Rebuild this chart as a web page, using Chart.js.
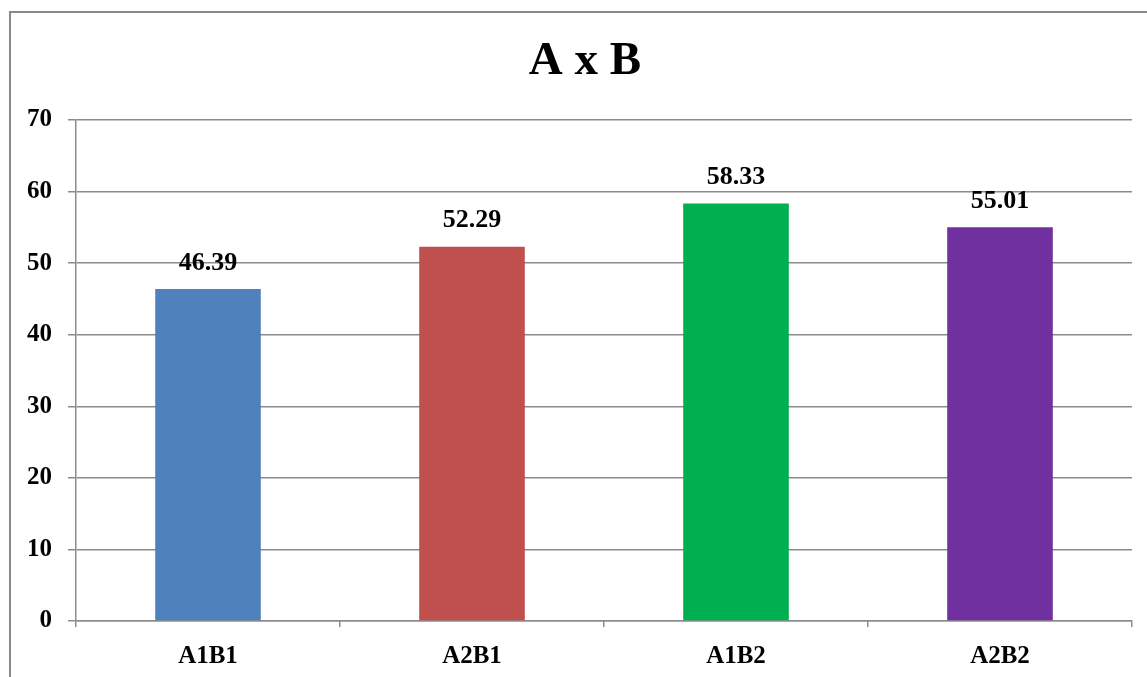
<!DOCTYPE html>
<html>
<head>
<meta charset="utf-8">
<title>A x B</title>
<script src="https://cdn.jsdelivr.net/npm/chart.js@4.4.1/dist/chart.umd.min.js"></script>
<style>
  html, body { margin: 0; padding: 0; background: #ffffff; overflow: hidden; }
  #frame {
    position: absolute; left: 9px; top: 11px; width: 1200px; height: 720px;
    border: 2px solid #8a8a8a; box-sizing: border-box;
  }
  #wrap { position: absolute; left: 0; top: 0; width: 1147px; height: 677px; }
</style>
</head>
<body>
<div id="frame"></div>
<div id="wrap"><canvas id="chart" width="1147" height="677"></canvas></div>
<script>
// Treatment combinations and their means
const categories = ['A1B1', 'A2B1', 'A1B2', 'A2B2'];
const values = [46.39, 52.29, 58.33, 55.01];
const barColors = ['#4F81BD', '#C0504D', '#00B050', '#7030A0'];
const yTicks = [0, 10, 20, 30, 40, 50, 60, 70];
const chartTitle = 'A x B';

const serif = "'Liberation Serif', 'Times New Roman', serif";
const gridGray = '#8c8c8c';

// Writes each bar's value centred above it
const valueLabels = {
  id: 'valueLabels',
  afterDatasetsDraw(chart) {
    const ctx = chart.ctx;
    const meta = chart.getDatasetMeta(0);
    ctx.save();
    ctx.font = 'bold 26px ' + serif;
    ctx.fillStyle = '#000000';
    ctx.textAlign = 'center';
    ctx.textBaseline = 'middle';
    meta.data.forEach((bar, i) => {
      ctx.fillText(values[i].toFixed(2), bar.x, bar.y - 26);
    });
    ctx.restore();
  }
};

// Chart heading, centred on the framed chart box
const heading = {
  id: 'heading',
  afterDraw(chart) {
    const ctx = chart.ctx;
    ctx.save();
    ctx.font = 'bold 47px ' + serif;
    ctx.fillStyle = '#000000';
    ctx.textAlign = 'center';
    ctx.textBaseline = 'middle';
    ctx.fillText(chartTitle, 585, 62);
    ctx.restore();
  }
};

new Chart(document.getElementById('chart'), {
  type: 'bar',
  data: {
    labels: categories,
    datasets: [{
      data: values,
      backgroundColor: barColors,
      borderWidth: 0,
      categoryPercentage: 1.0,
      barPercentage: 0.4
    }]
  },
  options: {
    responsive: false,
    animation: false,
    devicePixelRatio: 1,
    layout: { padding: { left: 0, right: 15, top: 120, bottom: 0 } },
    plugins: {
      legend: { display: false },
      tooltip: { enabled: false },
      title: { display: false }
    },
    scales: {
      x: {
        offset: true,
        grid: {
          offset: true,
          drawOnChartArea: false,
          drawTicks: true,
          tickLength: 6,
          color: gridGray,
          lineWidth: 1.5
        },
        border: { display: true, color: gridGray, width: 1.5 },
        ticks: {
          color: '#000000',
          padding: 15,
          font: { family: serif, size: 25, weight: 'bold' }
        },
        afterFit(scale) { scale.height = 56; }
      },
      y: {
        min: 0,
        max: 70,
        afterBuildTicks(scale) { scale.ticks = yTicks.map(v => ({ value: v })); },
        grid: {
          color: gridGray,
          lineWidth: 1.5,
          drawTicks: true,
          tickLength: 8
        },
        border: { display: true, color: gridGray, width: 1.5 },
        ticks: {
          color: '#000000',
          padding: 16,
          font: { family: serif, size: 25, weight: 'bold' }
        },
        afterFit(scale) { scale.width = 76; }
      }
    }
  },
  plugins: [valueLabels, heading]
});
</script>
</body>
</html>
